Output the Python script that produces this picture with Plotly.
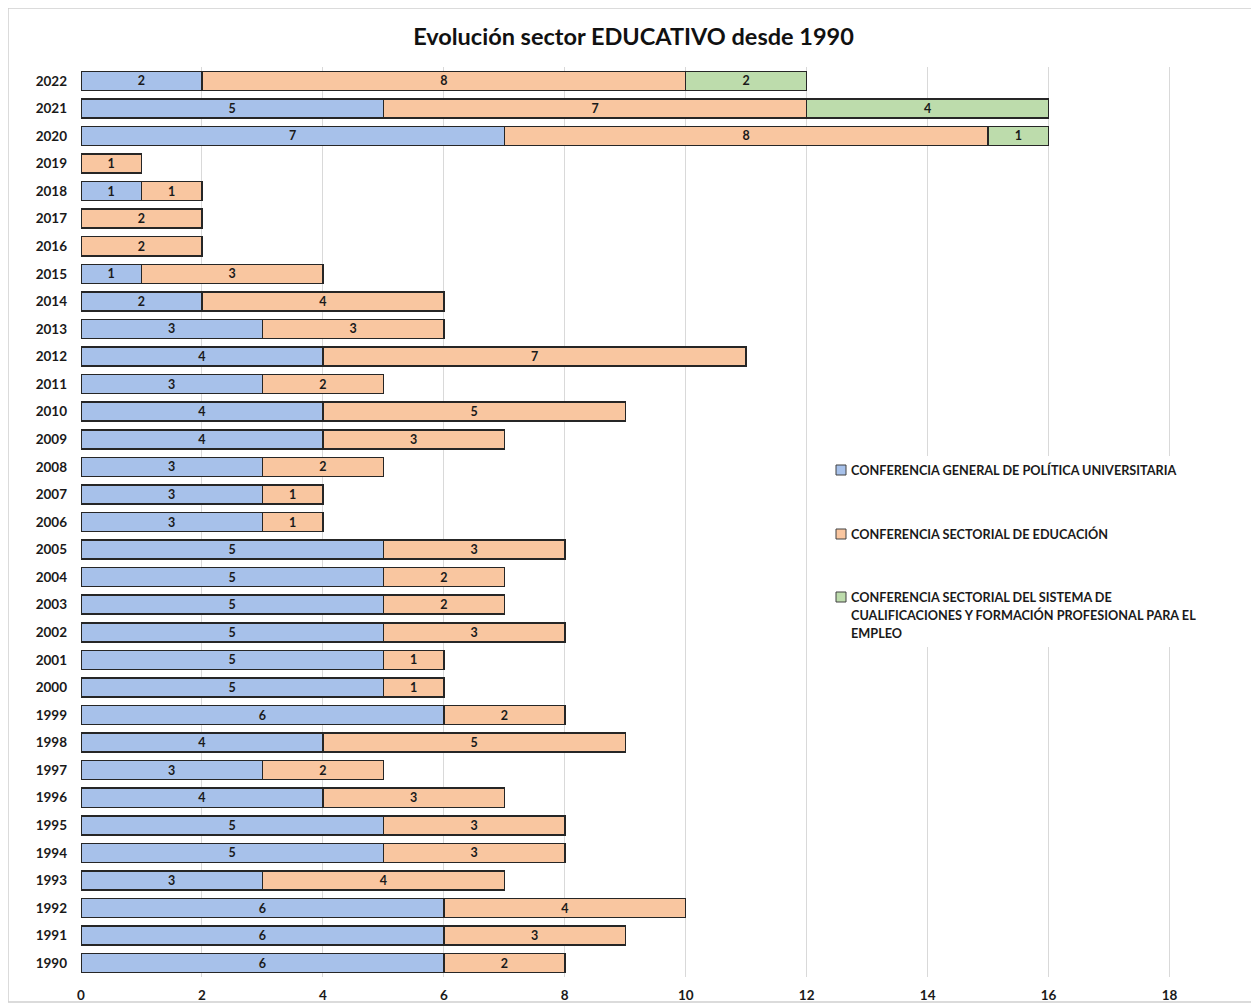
import plotly.graph_objects as go

# ── Data (1990 → 2022) ────────────────────────────────────────────────────────
years = [str(y) for y in range(1990, 2023)]

universitaria = [6, 6, 6, 3, 5, 5, 4, 3, 4, 6, 5, 5, 5, 5, 5, 5, 3, 3, 3, 4,
                 4, 3, 4, 3, 2, 1, 0, 0, 1, 0, 7, 5, 2]
educacion     = [2, 3, 4, 4, 3, 3, 3, 2, 5, 2, 1, 1, 3, 2, 2, 3, 1, 1, 2, 3,
                 5, 2, 7, 3, 4, 3, 2, 2, 1, 1, 8, 7, 8]
cualificacion = [0, 0, 0, 0, 0, 0, 0, 0, 0, 0, 0, 0, 0, 0, 0, 0, 0, 0, 0, 0,
                 0, 0, 0, 0, 0, 0, 0, 0, 0, 0, 1, 4, 2]

names = [
    "CONFERENCIA GENERAL DE POLÍTICA UNIVERSITARIA",
    "CONFERENCIA SECTORIAL DE EDUCACIÓN",
    "CONFERENCIA SECTORIAL DEL SISTEMA DE<br>CUALIFICACIONES Y FORMACIÓN PROFESIONAL PARA EL<br>EMPLEO",
]
colors = ["#a7c1ea", "#f9c6a0", "#bddcac"]

FONT = "Lato, Open Sans, sans-serif"
INK = "#1a1a1a"

# ── Geometry (figure pixels; page adds an 8px body offset) ───────────────────
W, H = 1251, 997
PL, PT, PR, PB = 73, 59, 1222, 969


def fx(X):  # page x -> paper fraction
    return (X - 8 - PL) / (PR - PL)


def fy(Y):  # page y -> paper fraction
    return (PB - (Y - 8)) / (PB - PT)


fig = go.Figure()
for vals, name, col in zip([universitaria, educacion, cualificacion], names, colors):
    fig.add_trace(go.Bar(
        y=years, x=[v if v else None for v in vals], name=name, orientation="h",
        marker=dict(color=col, line=dict(color="#262626", width=1.5)),
        text=[str(v) if v else "" for v in vals],
        textposition="inside", insidetextanchor="middle", textangle=0,
        constraintext="none",
        textfont=dict(family=FONT, size=12.5, color=INK, weight="bold"),
        hoverinfo="x+y+name", showlegend=False,
    ))

fig.update_layout(
    barmode="stack", bargap=0.31,
    width=W, height=H,
    paper_bgcolor="white", plot_bgcolor="white",
    margin=dict(l=PL, r=W - PR, t=PT, b=H - PB, autoexpand=False),
    font=dict(family=FONT, color=INK),
    title=dict(text="<b>Evolución sector EDUCATIVO desde 1990</b>",
               x=0.5, xanchor="center", xref="container",
               y=1 - 29 / H, yanchor="middle", yref="container",
               font=dict(family=FONT, size=23.5, color="#111")),
    xaxis=dict(range=[0, 19], tickvals=list(range(0, 19, 2)),
               showgrid=True, gridcolor="#d9d9d9", gridwidth=1,
               zeroline=False, showline=False, ticks="", automargin=False,
               tickfont=dict(size=13.5, weight="bold"), ticklabelstandoff=8),
    yaxis=dict(type="category", showgrid=False, showline=False, ticks="",
               automargin=False,
               tickfont=dict(size=13.5, weight="bold"), ticklabelstandoff=13),
    showlegend=False,
)

# ── Legend drawn by hand (white panel over the gridlines) ────────────────────
shapes = [dict(type="rect", xref="paper", yref="paper",
               x0=fx(822), x1=fx(1216), y0=fy(647), y1=fy(456),
               fillcolor="white", line=dict(width=0), layer="above")]
legend_y = [470, 534, 597]
for name, col, ly in zip(names, colors, legend_y):
    shapes.append(dict(type="rect", xref="paper", yref="paper",
                       x0=fx(836), x1=fx(846), y0=fy(ly + 5), y1=fy(ly - 5),
                       fillcolor=col, line=dict(color="#404040", width=1),
                       layer="above"))
    for k, line in enumerate(name.split("<br>")):
        fig.add_annotation(text=f"<b>{line}</b>", xref="paper", yref="paper",
                           x=fx(849), y=fy(ly + 18 * k), xanchor="left",
                           yanchor="middle", align="left", showarrow=False,
                           font=dict(family=FONT, size=12.7, color=INK))

# outer chart frame
shapes.append(dict(type="rect", xref="paper", yref="paper",
                   x0=fx(8), x1=fx(1255), y0=fy(1002), y1=fy(8),
                   line=dict(color="#d0d0d0", width=1.5),
                   fillcolor="rgba(0,0,0,0)", layer="below"))
fig.update_layout(shapes=shapes)

fig.write_html("out.html")
